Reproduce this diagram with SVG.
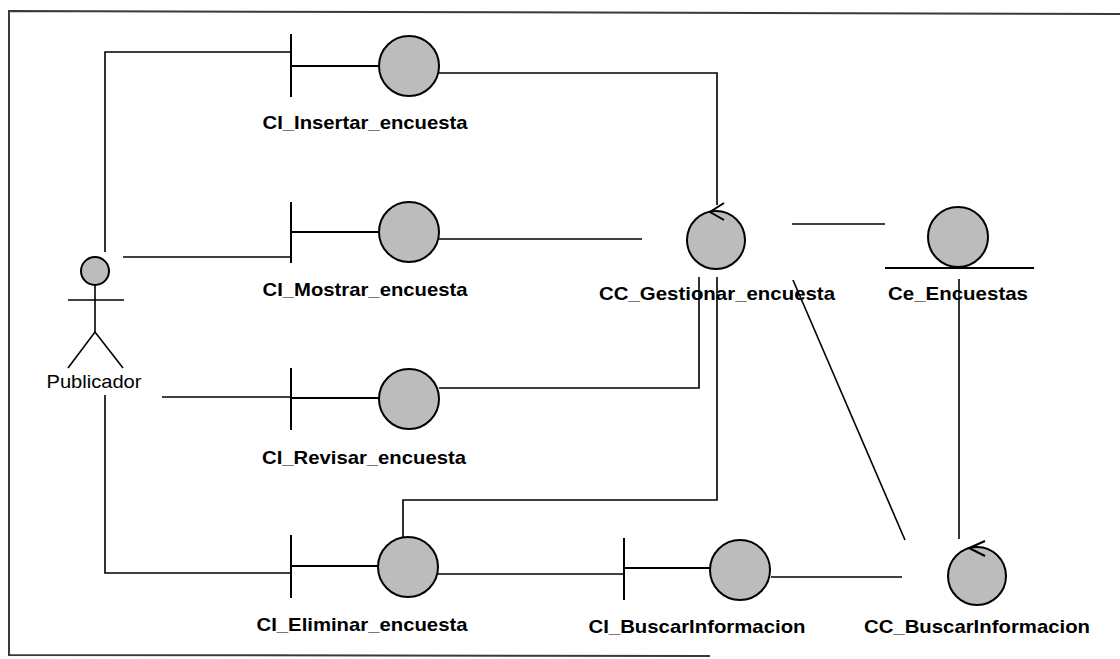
<svg xmlns="http://www.w3.org/2000/svg" width="1120" height="659" viewBox="0 0 1120 659">
  <style>
    .frame { fill: none; stroke: #3a3a3a; stroke-width: 2; }
    .conn { fill: none; stroke: #000; stroke-width: 1.6; }
    .bar { fill: none; stroke: #000; stroke-width: 2; }
    .ball { fill: #bcbcbc; stroke: #000; stroke-width: 2; }
    .arrow { fill: none; stroke: #000; stroke-width: 2; }
    .lbl { font-family: "Liberation Sans", Arial, sans-serif; font-weight: bold; font-size: 19px; fill: #000; text-anchor: middle; }
    .actor-lbl { font-family: "Liberation Sans", Arial, sans-serif; font-size: 19px; fill: #000; text-anchor: middle; }
  </style>

  <rect width="1120" height="659" fill="#fff"/>

  <!-- page frame -->
  <path class="frame" d="M1120,14 L9,11 L9,655 L710,656"/>

  <!-- connectors -->
  <g id="connectors">
    <!-- actor to boundaries -->
    <polyline class="conn" points="105,252 105,52 291,52"/>
    <line class="conn" x1="123" y1="257" x2="291" y2="257"/>
    <line class="conn" x1="162" y1="397" x2="291" y2="397"/>
    <polyline class="conn" points="105,395 105,573 291,573"/>
    <!-- boundaries to CC_Gestionar_encuesta -->
    <polyline class="conn" points="439,73 717,73 717,205"/>
    <line class="conn" x1="439" y1="239" x2="642" y2="239"/>
    <polyline class="conn" points="439,388 699,388 699,277"/>
    <polyline class="conn" points="403,537 403,500 717,500 717,277"/>
    <!-- CC_Gestionar_encuesta to Ce_Encuestas -->
    <line class="conn" x1="792" y1="224" x2="885" y2="224"/>
    <!-- CC_Gestionar_encuesta to CC_BuscarInformacion -->
    <line class="conn" x1="793" y1="280" x2="905" y2="540"/>
    <!-- Ce_Encuestas to CC_BuscarInformacion -->
    <line class="conn" x1="959" y1="279" x2="959" y2="539"/>
    <!-- CI_Eliminar_encuesta to CI_BuscarInformacion -->
    <line class="conn" x1="438" y1="574" x2="624" y2="574"/>
    <!-- CI_BuscarInformacion to CC_BuscarInformacion -->
    <line class="conn" x1="771" y1="577" x2="902" y2="577"/>
  </g>

  <!-- actor -->
  <g id="publicador">
    <circle class="ball" cx="95" cy="271" r="14"/>
    <line class="conn" x1="95" y1="285" x2="95" y2="332"/>
    <line class="conn" x1="68" y1="300" x2="124" y2="300"/>
    <polyline class="conn" points="68,368 95,332 123,368"/>
    <text class="actor-lbl" x="94" y="388" textLength="95" lengthAdjust="spacingAndGlyphs">Publicador</text>
  </g>

  <!-- boundary objects -->
  <g id="ci-insertar">
    <line class="bar" x1="291" y1="34" x2="291" y2="97"/>
    <line class="bar" x1="291" y1="66" x2="379" y2="66"/>
    <circle class="ball" cx="409" cy="66" r="30"/>
    <text class="lbl" x="365" y="129" textLength="205" lengthAdjust="spacingAndGlyphs">CI_Insertar_encuesta</text>
  </g>

  <g id="ci-mostrar">
    <line class="bar" x1="291" y1="202" x2="291" y2="263"/>
    <line class="bar" x1="291" y1="232" x2="379" y2="232"/>
    <circle class="ball" cx="409" cy="232" r="30"/>
    <text class="lbl" x="365" y="296" textLength="205" lengthAdjust="spacingAndGlyphs">CI_Mostrar_encuesta</text>
  </g>

  <g id="ci-revisar">
    <line class="bar" x1="291" y1="368" x2="291" y2="430"/>
    <line class="bar" x1="291" y1="398" x2="379" y2="398"/>
    <circle class="ball" cx="409" cy="399" r="30"/>
    <text class="lbl" x="364" y="464" textLength="204" lengthAdjust="spacingAndGlyphs">CI_Revisar_encuesta</text>
  </g>

  <g id="ci-eliminar">
    <line class="bar" x1="291" y1="535" x2="291" y2="598"/>
    <line class="bar" x1="291" y1="566" x2="378" y2="566"/>
    <circle class="ball" cx="408" cy="567" r="30"/>
    <text class="lbl" x="362" y="631" textLength="211" lengthAdjust="spacingAndGlyphs">CI_Eliminar_encuesta</text>
  </g>

  <g id="ci-buscarinformacion">
    <line class="bar" x1="624" y1="538" x2="624" y2="600"/>
    <line class="bar" x1="624" y1="568" x2="710" y2="568"/>
    <circle class="ball" cx="740" cy="570" r="30"/>
    <text class="lbl" x="697" y="633" textLength="217" lengthAdjust="spacingAndGlyphs">CI_BuscarInformacion</text>
  </g>

  <!-- control objects -->
  <g id="cc-gestionar">
    <circle class="ball" cx="716" cy="240" r="29"/>
    <polyline class="arrow" points="724,203 710,212 724,220"/>
    <text class="lbl" x="717" y="300" textLength="236" lengthAdjust="spacingAndGlyphs">CC_Gestionar_encuesta</text>
  </g>

  <g id="cc-buscarinformacion">
    <circle class="ball" cx="977" cy="576" r="29"/>
    <polyline class="arrow" points="985,541 969,548 985,556"/>
    <text class="lbl" x="977" y="633" textLength="226" lengthAdjust="spacingAndGlyphs">CC_BuscarInformacion</text>
  </g>

  <!-- entity object -->
  <g id="ce-encuestas">
    <circle class="ball" cx="958" cy="237" r="30"/>
    <line class="bar" x1="885" y1="268" x2="1034" y2="268"/>
    <text class="lbl" x="958" y="300" textLength="140" lengthAdjust="spacingAndGlyphs">Ce_Encuestas</text>
  </g>
</svg>
